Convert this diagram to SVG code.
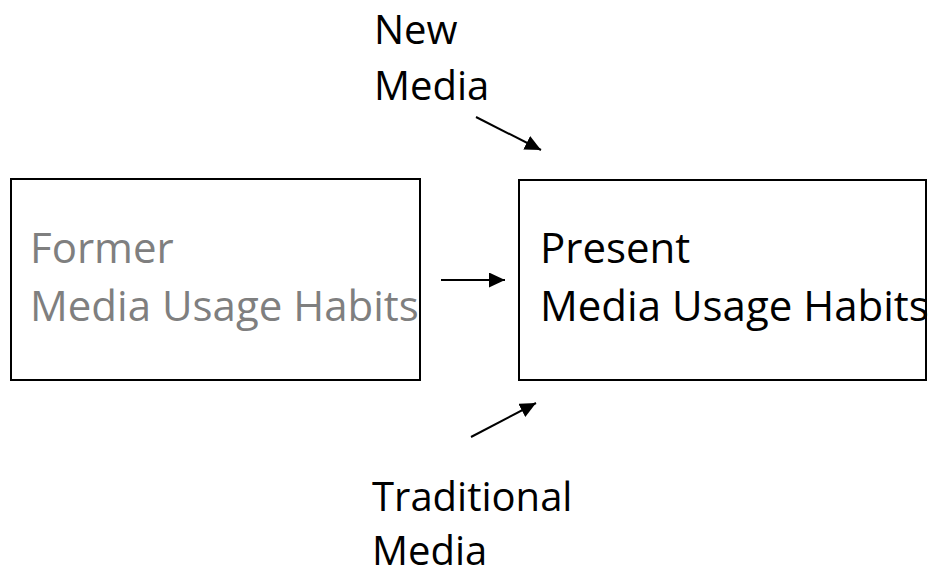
<svg xmlns="http://www.w3.org/2000/svg" width="933" height="577" viewBox="0 0 933 577">
<style>
.box{fill:#fff;stroke:#000;stroke-width:2}
.t{font-family:"Open Sans","Noto Sans",sans-serif;font-size:42px;fill:#000}
.lbl{font-size:40px}
.gray{fill:#7f7f7f}
.conn{stroke:#000;stroke-width:2;fill:none}
</style>
<defs>
<marker id="ah" markerUnits="userSpaceOnUse" markerWidth="18" markerHeight="16" refX="16" refY="7.5" orient="auto">
<path d="M0,0 L16,7.5 L0,15 Z" fill="#000"/>
</marker>
</defs>
<rect width="933" height="577" fill="#fff"/>
<g id="former">
<rect class="box" x="11" y="179" width="409" height="201"/>
<text class="t gray" x="30" y="263">Former</text>
<text class="t gray" x="30" y="321">Media Usage Habits</text>
</g>
<g id="present">
<rect class="box" x="519" y="180" width="407" height="200"/>
<text class="t" x="540" y="263">Present</text>
<text class="t" x="540" y="321">Media Usage Habits</text>
</g>
<g id="newmedia">
<text class="t lbl" x="374" y="44">New</text>
<text class="t lbl" x="374" y="100">Media</text>
</g>
<g id="traditional">
<text class="t lbl" x="372" y="511">Traditional</text>
<text class="t lbl" x="372" y="565">Media</text>
</g>
<g id="connectors">
<line class="conn" x1="441" y1="280" x2="505" y2="280" marker-end="url(#ah)"/>
<line class="conn" x1="476" y1="117" x2="541" y2="150" marker-end="url(#ah)"/>
<line class="conn" x1="471" y1="437" x2="536" y2="403" marker-end="url(#ah)"/>
</g>
</svg>
